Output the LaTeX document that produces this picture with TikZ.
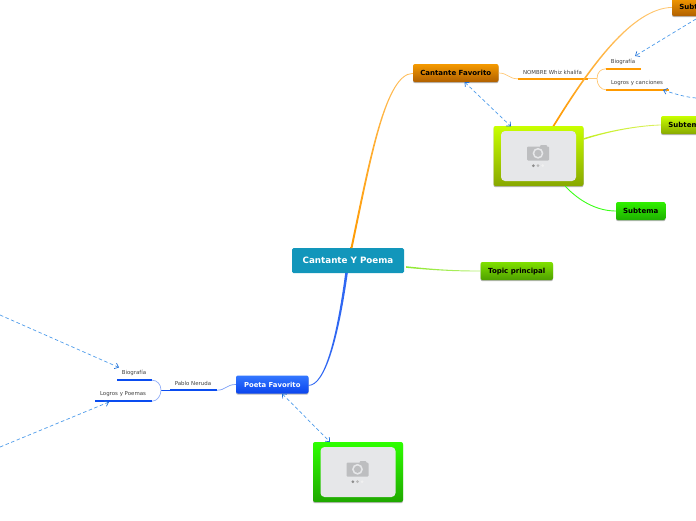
\documentclass[tikz,border=0pt]{standalone}
\usepackage{fontspec}
\setmainfont{DejaVu Sans}
\usetikzlibrary{arrows.meta,shadows,calc}
\definecolor{dashblue}{HTML}{4D9BEA}
\definecolor{tipblue}{HTML}{1F6FD8}
\definecolor{orangeL}{HTML}{FF9A00}
\definecolor{blueL}{HTML}{0A4CF0}
\definecolor{paneGray}{HTML}{E6E7E9}
\definecolor{camGray}{HTML}{BDBEC0}
\definecolor{rootC}{HTML}{1296BB}
\definecolor{limeL}{HTML}{8FE830}
\definecolor{limeS}{HTML}{B4F070}
\definecolor{yelL}{HTML}{C4F020}
\definecolor{yelS}{HTML}{DCF060}
\tikzset{
  x=1pt,y=-1pt,
  topicbox/.style={draw=none,rounded corners=2pt,inner sep=0pt,minimum height=18pt,
    drop shadow={shadow xshift=0pt,shadow yshift=-1.2pt,fill=black,opacity=.28},
    font=\fontsize{7}{8}\selectfont\bfseries,text height=5.4pt,text depth=0pt},
  imgbox/.style={topicbox,minimum width=90pt,minimum height=60pt},
  pane/.style={fill=paneGray,draw=none,rounded corners=4pt,inner sep=0pt,minimum width=75pt,minimum height=50pt},
  lbl/.style={font=\fontsize{5.45}{6}\selectfont,text=black!75,inner sep=0pt},
  uline/.style={line width=2pt},
  thin link/.style={line width=.7pt},
  rel/.style={dash pattern=on 3.5pt off 2.5pt,draw=dashblue,line width=.7pt},
  reltip/.style={-{Straight Barb[length=3.5pt,width=6pt,color=tipblue]}},
  reltwo/.style={{Straight Barb[length=3.5pt,width=6pt,color=tipblue]}-{Straight Barb[length=3.5pt,width=6pt,color=tipblue]}},
}
\newcommand{\camicon}[1]{%
  \begin{scope}[shift={(#1)}]
    \fill[camGray,rounded corners=1pt] (-11,-6.5) rectangle (11,7.5);
    \fill[camGray,rounded corners=1pt] (2,-8) rectangle (9,-5);
    \fill[paneGray] (0,.3) circle (5.4);
    \fill[camGray] (0,.3) circle (3.6);
    \fill[black!45] (-4.7,12.7) circle (1.5);
    \fill[black!28] (0,12.7) circle (1.5);
    \fill[black!6] (4.7,12.7) circle (1.5);
  \end{scope}}
\begin{document}
\begin{tikzpicture}
\useasboundingbox (0,0) rectangle (696,520);
\clip (0,0) rectangle (696,520);

% boxes
\node[fill=rootC,inner sep=0pt,minimum width=112pt,minimum height=25pt,rounded corners=1.5pt,
  font=\fontsize{8.75}{10}\selectfont\bfseries,text=white,text height=6.6pt,text depth=0pt] (root) at (348,260.5) {Cantante Y Poema};

\node[topicbox,minimum width=85.5pt,top color={rgb,255:red,245;green,154;blue,0},bottom color={rgb,255:red,176;green,96;blue,0}] (cant) at (455.75,73) {Cantante Favorito};
\node[imgbox,top color={rgb,255:red,200;green,255;blue,0},bottom color={rgb,255:red,136;green,168;blue,0}] (img1) at (538.5,156) {};
\node[pane] (pane1) at (538.5,156) {};
\camicon{538,153}
\node[topicbox,minimum width=50pt,top color={rgb,255:red,245;green,154;blue,0},bottom color={rgb,255:red,176;green,96;blue,0}] (sub1) at (697,7) {Subtema};
\node[topicbox,minimum width=50pt,top color={rgb,255:red,200;green,255;blue,0},bottom color={rgb,255:red,136;green,168;blue,0}] (sub2) at (686,125) {Subtema};
\node[topicbox,minimum width=49.5pt,top color={rgb,255:red,48;green,240;blue,0},bottom color={rgb,255:red,30;green,176;blue,0}] (sub3) at (640.75,211) {Subtema};
\node[topicbox,minimum width=72.5pt,top color={rgb,255:red,128;green,224;blue,0},bottom color={rgb,255:red,78;green,160;blue,0}] (topic) at (516.75,271) {Topic principal};
\node[topicbox,minimum width=72.5pt,text=white,font=\fontsize{6.85}{8}\selectfont\bfseries,top color={rgb,255:red,51;green,119;blue,255},bottom color={rgb,255:red,10;green,68;blue,238}] (poeta) at (272.25,384.5) {Poeta Favorito};
\node[imgbox,top color={rgb,255:red,46;green,255;blue,0},bottom color={rgb,255:red,31;green,168;blue,0}] (img2) at (358,472) {};
\node[pane] (pane2) at (358,472) {};
\camicon{357.5,469}

% labels
\node[lbl] (nombre) at (552.5,72) {NOMBRE Whiz khalifa};
\node[lbl] (bio1) at (623,61.5) {Biografía};
\node[lbl] (log1) at (637,83) {Logros y canciones};
\node[lbl] (pablo) at (193,383.3) {Pablo Neruda};
\node[lbl] (bio2) at (134,373) {Biografía};
\node[lbl] (log2) at (123,394) {Logros y Poemas};

% underlines
\coordinate (nomL) at (518,78.8); \coordinate (nomR) at (588,78.8);
\coordinate (b1L) at (606,68.8);  \coordinate (b1R) at (641,68.8);
\coordinate (l1L) at (606,89.8);  \coordinate (l1R) at (669,89.8);
\coordinate (paL) at (170,390.2);   \coordinate (paR) at (217,390.2);
\coordinate (b2L) at (117,380.2);   \coordinate (b2R) at (152,380.2);
\coordinate (l2L) at (95,401.2);  \coordinate (l2R) at (152,401.2);
\draw[uline,orangeL] (nomL)--(nomR);
\draw[uline,orangeL] (b1L)--(b1R);
\draw[uline,orangeL] (l1L)--(l1R);
\draw[uline,blueL] (paL)--(paR);
\draw[uline,blueL] (b2L)--(b2R);
\draw[uline,blueL] (l2L)--(l2R);

% tapered main connectors
\coordinate (rt) at (351.5,248);
\coordinate (ct) at (cant.west);
\shade[bottom color=orangeL,top color=orangeL!65] (rt) ++(-1,0) .. controls (369,160) and (385,73) .. (ct) -- ++(0,.8) .. controls (386,74) and (371,160) .. ($(rt)+(1,0)$) -- cycle;
\coordinate (rb) at (346.5,273);
\coordinate (pr) at (308.5,385);
\fill[blueL!85] (rb) ++(-1.3,0) .. controls (337,335) and (325,385) .. (pr) -- ++(0,.8) .. controls (326,386) and (339,335) .. ($(rb)+(1.3,0)$) -- cycle;
\coordinate (it) at (553.5,126);
\coordinate (st) at (sub1.west);
\shade[bottom color=orangeL,top color=orangeL!55] (it) ++(-1,0) .. controls (590,65) and (632,8) .. (st) -- ++(0,.8) .. controls (633,9) and (592,65) .. ($(it)+(1,0)$) -- cycle;
\coordinate (tr) at (406,267);
\shade[left color=limeL,right color=limeS] (tr) ++(0,-.8) .. controls (440,270) and (460,270.5) .. ($(topic.west)+(0,-.4)$) -- ++(0,.8) .. controls (460,271.5) and (440,271) .. ($(tr)+(0,.8)$) -- cycle;
\coordinate (ir) at (583.5,139);
\shade[left color=yelL,right color=yelS] (ir) ++(0,-.8) .. controls (610,130) and (640,125) .. ($(sub2.west)+(0,-.4)$) -- ++(0,.8) .. controls (640,126) and (610,131) .. ($(ir)+(0,.8)$) -- cycle;
\coordinate (ib) at (565,186);
\draw[line width=.9pt,green!85!yellow!90] (ib) .. controls (580,202) and (598,211) .. (sub3.west);

% thin links
\draw[thin link,orangeL!55] (cant.east) .. controls (508,73) and (508,78.8) .. (nomL);
\coordinate (nb) at (597,78.8);
\draw[thin link,orangeL!55] (nomR) -- (nb);
\draw[thin link,orangeL!55] (b1L) .. controls (601,68.8) and (597,72) .. (nb) .. controls (597,85) and (601,89.8) .. (l1L);
\draw[thin link,blueL!55] (poeta.west) .. controls (226,384.5) and (226,390.2) .. (paR);
\coordinate (pb) at (161,390.2);
\draw[thin link,blueL] (paL) -- (pb);
\draw[thin link,blueL!45] (b2R) .. controls (157,380.2) and (161,384) .. (pb) .. controls (161,396) and (157,401.2) .. (l2R);

% relationships
\coordinate (r1s) at (696,19);
\coordinate (r1e) at (635,56);
\coordinate (r2s) at (696,98);
\coordinate (r2e) at (663,90);
\coordinate (r3s) at (0,315);
\coordinate (r3e) at (119,367.5);
\coordinate (r4s) at (0,447);
\coordinate (r4e) at (109,402);
\coordinate (r5a) at (464.5,82);
\coordinate (r5b) at (511,126.5);
\coordinate (r6a) at (282,393.5);
\coordinate (r6b) at (330,442);
\draw[rel,reltip] (r1s) -- (r1e);
\draw[rel,reltip] (r2s) .. controls (685,97) and (675,94) .. (r2e);
\draw[rel,reltip] (r3s) -- (r3e);
\draw[rel,reltip] (r4s) -- (r4e);
\draw[rel,reltwo] (r5a) -- (r5b);
\draw[rel,reltwo] (r6a) -- (r6b);
\end{tikzpicture}
\end{document}
